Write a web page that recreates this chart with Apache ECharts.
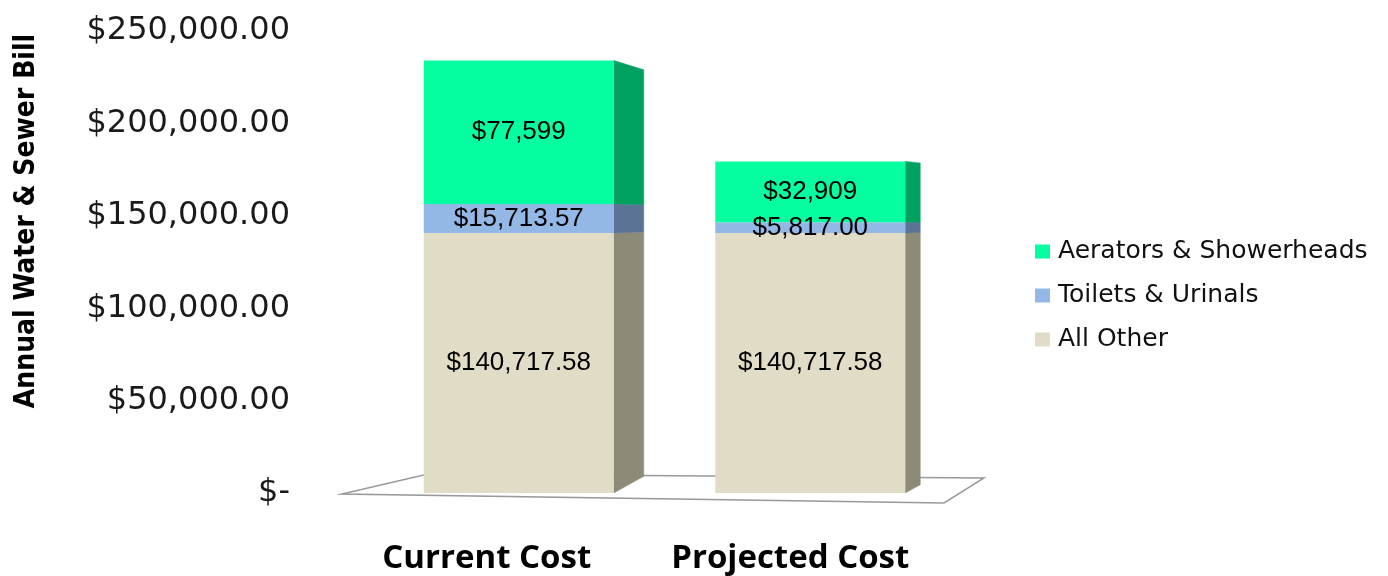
<!DOCTYPE html>
<html>
<head>
<meta charset="utf-8">
<script src="https://cdn.jsdelivr.net/npm/echarts@6/dist/echarts.min.js"></script>
<style>html,body{margin:0;padding:0;background:#fff;}#c{width:1388px;height:576px;}</style>
</head>
<body>
<div id="c"></div>
<script>
const categories = ['Current Cost', 'Projected Cost'];
const seriesNames = ['All Other', 'Toilets & Urinals', 'Aerators & Showerheads'];
const allOther = [140717.58, 140717.58];
const toilets = [15713.57, 5817.00];
const aerators = [77599, 32909];
const yTicks = [0, 50000, 100000, 150000, 200000, 250000];
const yTickLabels = ['$-', '$50,000.00', '$100,000.00', '$150,000.00', '$200,000.00', '$250,000.00'];

const frontColors = ['#E0DCC6', '#93B8E6', '#05FFA0'];
const sideColors = ['#8D8A78', '#5B7496', '#00A060'];
const depths = [30, 15];
const BAR_W = 190;

const stacks = [allOther, toilets, aerators];
const sideData = [];
categories.forEach((c, i) => {
  let base = 0;
  stacks.forEach((arr, s) => {
    sideData.push([i, base, base + arr[i], s]);
    base += arr[i];
  });
});

function fmt2(v) {
  return '$' + v.toLocaleString('en-US', {minimumFractionDigits: 2, maximumFractionDigits: 2});
}
function fmt0(v) {
  return '$' + Math.round(v).toLocaleString('en-US');
}

const labelStyle = {
  show: true, position: 'inside', color: '#000',
  fontFamily: 'Liberation Sans', fontSize: 26
};

const chart = echarts.init(document.getElementById('c'), null, {renderer: 'canvas'});
chart.setOption({
  animation: false,
  backgroundColor: '#fff',
  grid: {left: 373, right: 432, top: 31, bottom: 83, containLabel: false},
  legend: {
    orient: 'vertical', left: 1030, top: 234,
    data: ['Aerators & Showerheads', 'Toilets & Urinals', 'All Other'],
    itemWidth: 15, itemHeight: 14, itemGap: 19,
    icon: 'rect',
    textStyle: {fontFamily: 'DejaVu Sans', fontSize: 25, color: '#111', padding: [0, 0, 0, 3]}
  },
  xAxis: {
    type: 'category', data: categories,
    axisLine: {show: false}, axisTick: {show: false},
    axisLabel: {
      margin: 49,
      formatter: function (v, i) { return i === 0 ? '{a|' + v + '}' : '{b|' + v + '}'; },
      rich: {
        a: {fontFamily: 'Open Sans', fontWeight: 'bold', fontSize: 33, color: '#000', padding: [0, 64, 0, 0]},
        b: {fontFamily: 'Open Sans', fontWeight: 'bold', fontSize: 33, color: '#000', padding: [0, 40, 0, 0]}
      }
    }
  },
  yAxis: {
    type: 'value', min: 0, max: 250000, interval: 50000,
    axisLine: {show: false}, axisTick: {show: false}, splitLine: {show: false},
    axisLabel: {
      margin: 83, fontFamily: 'DejaVu Sans', fontSize: 32, color: '#1a1a1a',
      formatter: function (v) { return yTickLabels[yTicks.indexOf(v)]; }
    },
    name: 'Annual Water & Sewer Bill', nameLocation: 'middle', nameGap: 332,
    nameTextStyle: {fontFamily: '"DejaVu Sans Condensed", "Liberation Sans", sans-serif', fontWeight: 'bold', fontSize: 28, color: '#000', padding: [0, 0, 0, 82]}
  },
  graphic: [{
    type: 'polygon', z: -10,
    shape: {points: [[342, 494], [428, 474], [984, 478], [944, 503]]},
    style: {fill: '#fff', stroke: '#9a9a9a', lineWidth: 1.5}
  }],
  series: [
    {name: 'All Other', type: 'bar', stack: 't', barWidth: BAR_W, data: allOther,
     itemStyle: {color: frontColors[0]}, label: Object.assign({}, labelStyle, {formatter: p => fmt2(p.value)})},
    {name: 'Toilets & Urinals', type: 'bar', stack: 't', barWidth: BAR_W, data: toilets,
     itemStyle: {color: frontColors[1]}, label: Object.assign({}, labelStyle, {formatter: p => fmt2(p.value)})},
    {name: 'Aerators & Showerheads', type: 'bar', stack: 't', barWidth: BAR_W, data: aerators,
     itemStyle: {color: frontColors[2]}, label: Object.assign({}, labelStyle, {formatter: p => fmt0(p.value)})},
    {
      type: 'custom', name: 'side', data: sideData, silent: true,
      renderItem: function (params, api) {
        const i = api.value(0), v0 = api.value(1), v1 = api.value(2), s = api.value(3);
        const p0 = api.coord([i, v0]);
        const p1 = api.coord([i, v1]);
        const xr = p0[0] + BAR_W / 2;
        const d = depths[i];
        const k = 1 - d * 0.002;
        const hz = 215;
        const back = y => hz + (y - hz) * k;
        return {
          type: 'polygon',
          shape: {points: [[xr, p0[1]], [xr, p1[1]], [xr + d, back(p1[1])], [xr + d, back(p0[1])]]},
          style: {fill: sideColors[s], stroke: sideColors[s], lineWidth: 0.5}
        };
      }
    }
  ]
});
</script>
</body>
</html>
